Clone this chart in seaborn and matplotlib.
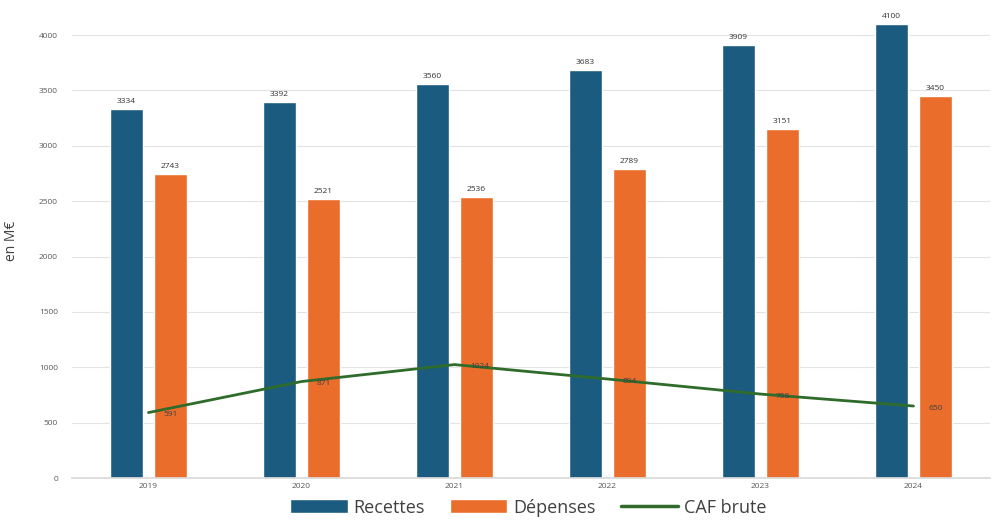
import numpy as np
import pandas as pd
import matplotlib
matplotlib.use('Agg')
import matplotlib.pyplot as plt
import seaborn as sns
from matplotlib.patches import Patch
from matplotlib.lines import Line2D

# données
annees = ["2019", "2020", "2021", "2022", "2023", "2024"]
recettes = [3334, 3392, 3560, 3683, 3909, 4100]
depenses = [2743, 2521, 2536, 2789, 3151, 3450]
caf_brute = [591, 871, 1024, 894, 758, 650]

c_rec = "#1b5b80"
c_dep = "#ea6d2c"
c_caf = "#2f6b2a"

df = pd.DataFrame({
    "annee": annees * 2,
    "valeur": recettes + depenses,
    "serie": ["Recettes"] * len(annees) + ["Dépenses"] * len(annees),
})

sns.set_theme(style="whitegrid")
plt.rcParams['font.family'] = ['Open Sans', 'DejaVu Sans']

fig = plt.figure(figsize=(10, 5.25), dpi=100)
ax = fig.add_axes([0.072, 0.0895, 0.918, 0.886])

sns.barplot(data=df, x="annee", y="valeur", hue="serie",
            palette={"Recettes": c_rec, "Dépenses": c_dep},
            width=0.575, gap=0.23, ax=ax, legend=False, saturation=1)

for cont in ax.containers:
    ax.bar_label(cont, fmt="%d", padding=3, fontsize=6, color="#333333")

x_pos = np.arange(len(annees))
sns.lineplot(x=x_pos, y=caf_brute, color=c_caf, linewidth=2, ax=ax)
for xi, v in zip(x_pos, caf_brute):
    ax.text(xi + 0.1, v - 20, f"{v}", fontsize=6, color="#404040",
            ha="left", va="center")

ax.set_xlim(-0.5, len(annees) - 0.5)
ax.set_ylim(0, 4200)
ax.set_yticks(range(0, 4001, 500))
ax.set_xlabel("")
ax.set_ylabel("en M€", fontsize=10, color="#404040")
ax.yaxis.set_label_coords(-0.058, 0.51)
ax.tick_params(axis="both", length=0, labelsize=6, colors="#595959")
ax.tick_params(axis="y", pad=10)
ax.grid(axis="y", color="#e3e3e3", linewidth=0.8)
ax.grid(axis="x", visible=False)
for s in ["top", "right", "left"]:
    ax.spines[s].set_visible(False)
ax.spines["bottom"].set_color("#d9d9d9")

handles = [
    Patch(facecolor=c_rec, label="Recettes"),
    Patch(facecolor=c_dep, label="Dépenses"),
    Line2D([0], [0], color=c_caf, linewidth=2.5, label="CAF brute"),
]
fig.legend(handles=handles, loc="lower center", ncol=3, frameon=False,
           fontsize=13, handlelength=3.2, handleheight=0.8,
           bbox_to_anchor=(0.528, -0.015), columnspacing=1.4, handletextpad=0.3,
           labelcolor="#404040")

fig.savefig("out.png", dpi=100, facecolor="white")
